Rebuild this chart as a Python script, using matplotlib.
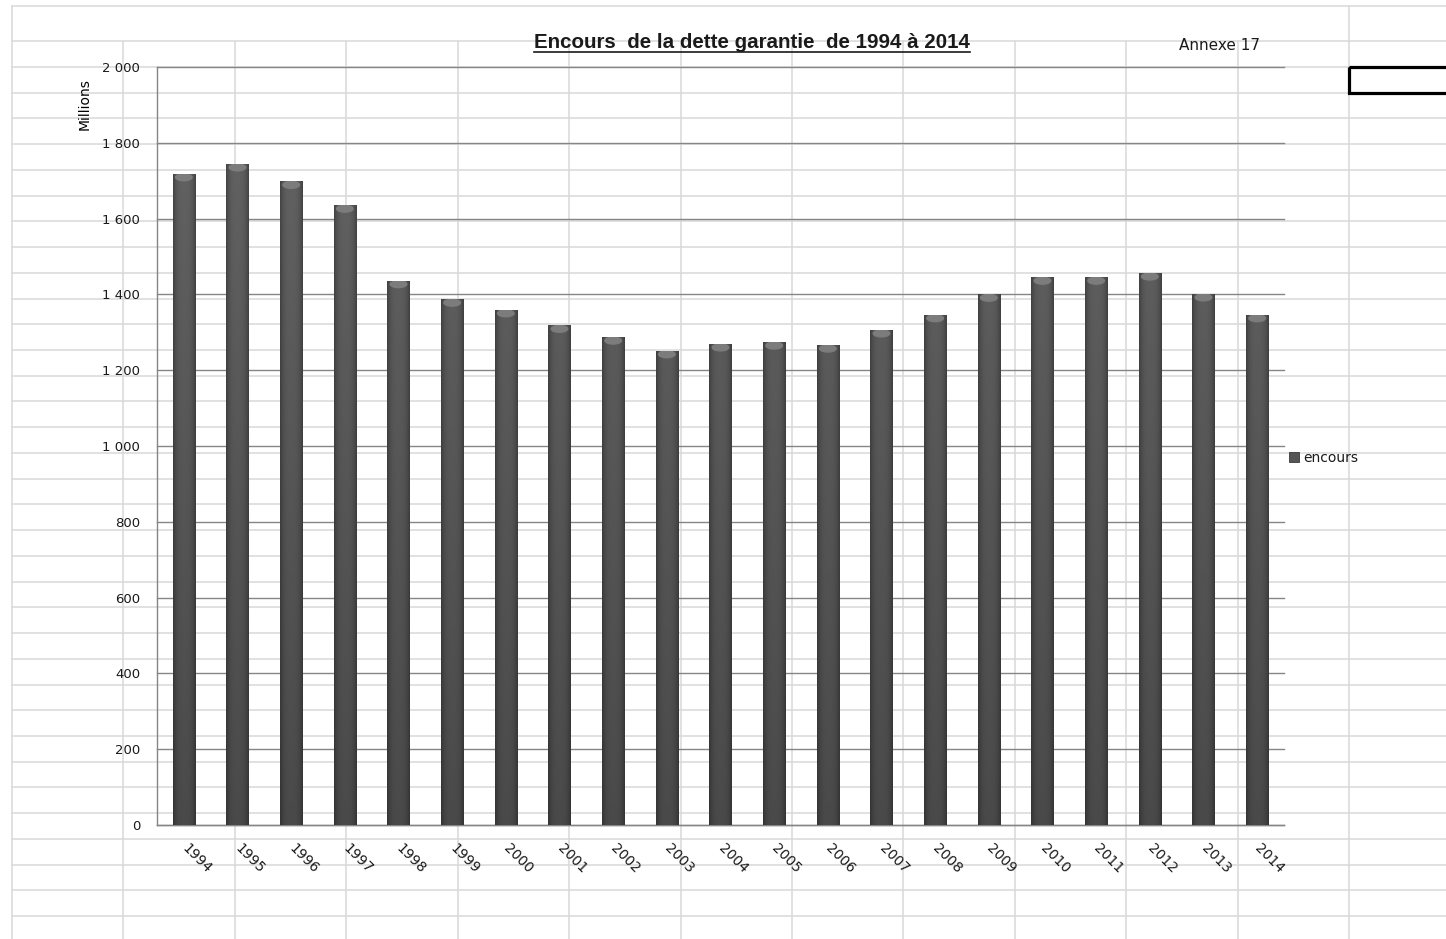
import matplotlib.pyplot as plt
import numpy as np
from matplotlib.lines import Line2D
from matplotlib.patches import Ellipse, Patch, Rectangle
from matplotlib.ticker import FuncFormatter, MultipleLocator

plt.rcParams.update({"font.family": "DejaVu Sans"})

## data
years = [1994, 1995, 1996, 1997, 1998, 1999, 2000, 2001, 2002, 2003, 2004,
         2005, 2006, 2007, 2008, 2009, 2010, 2011, 2012, 2013, 2014]
encours = [1718, 1744, 1698, 1635, 1436, 1387, 1359, 1318, 1287, 1251, 1269,
           1274, 1266, 1306, 1346, 1400, 1445, 1445, 1456, 1401, 1346]

## style
W, H = 1446, 939
col_sheet = "#d9d9d9"
col_grid = "#858585"
col_txt = "#1a1a1a"
bw = 0.41

fig = plt.figure(figsize=(W / 100, H / 100), dpi=100, facecolor="white")

##--------------- spreadsheet background ---------------##
bg = fig.add_axes([0, 0, 1, 1])
bg.set_xlim(0, W)
bg.set_ylim(H, 0)
bg.axis("off")

rows = [6, 41] + list(67 + 25.73 * np.arange(34))
for y in rows:
    bg.plot([12, W], [y, y], color=col_sheet, lw=1.1, zorder=0)
cols = 12 + 111.42 * np.arange(13)
for i, xc in enumerate(cols):
    top = 6 if i in (0, 12) else 41
    bg.plot([xc, xc], [top, H], color=col_sheet, lw=1.1, zorder=0)
# selected cell
bg.add_patch(Rectangle((1349, 67), 120, 25.7, fill=False, ec="black", lw=2.3, clip_on=False))

##--------------- chart ---------------##
ax = fig.add_axes([157 / W, (H - 825) / H, (1284 - 157) / W, (825 - 67) / H])
ax.patch.set_alpha(0)

x = np.arange(len(years))
bars = ax.bar(x, encours, width=bw, color="#505050", lw=0, zorder=3)

# cylinder-like shading
t = np.linspace(-1, 1, 40)
prof = 1 - 0.3 * np.abs(t) ** 3
for rect, v in zip(bars, encours):
    x0, w = rect.get_x(), rect.get_width()
    yy = np.linspace(0, v, 100)[:, None]
    shade = (0.29 + 0.09 * yy / 1750) * prof[None, :]
    img = ax.imshow(shade, cmap="gray", vmin=0, vmax=1, extent=[x0, x0 + w, 0, v],
                    origin="lower", aspect="auto", interpolation="bilinear", zorder=3.5)
    img.set_clip_path(rect)
    cap = Ellipse((x0 + w / 2, v - 9), w * 0.75, 18, color="#7c7c7c", zorder=4)
    ax.add_patch(cap)
    cap.set_clip_path(rect)

ax.set_xlim(-0.5, len(years) - 0.5)
ax.set_ylim(0, 2000)
ax.yaxis.set_major_locator(MultipleLocator(200))
ax.yaxis.set_major_formatter(FuncFormatter(lambda v, p: f"{int(v):,}".replace(",", " ")))
ax.grid(axis="y", color=col_grid, lw=1.0, zorder=1)
ax.grid(axis="x", visible=False)
for gl in ax.get_ygridlines():
    gl.set_clip_on(False)
for s in ["top", "right"]:
    ax.spines[s].set_visible(False)
for s in ["left", "bottom"]:
    ax.spines[s].set_color(col_grid)
    ax.spines[s].set_linewidth(1.0)

ax.set_xticks(x, [str(y) for y in years], rotation=-45, rotation_mode="anchor",
              ha="left", va="center")
ax.tick_params(axis="y", length=0, pad=12, labelsize=9.5, labelcolor=col_txt)
ax.tick_params(axis="x", length=0, pad=15.5, labelsize=10, labelcolor=col_txt)

ax.text(-0.0643, 0.951, "Millions", transform=ax.transAxes, rotation=90,
        ha="center", va="center", fontsize=10, color="black")

# legend
fig.legend(handles=[Patch(facecolor="#555555", edgecolor="#3a3a3a", lw=0.6)], labels=["encours"],
           loc="center left", bbox_to_anchor=(1289 / W, (H - 458) / H), frameon=False,
           borderpad=0, borderaxespad=0, handlelength=0.75, handleheight=0.75,
           handletextpad=0.3, fontsize=10, labelcolor=col_txt)

# title (underlined)
title = fig.text(752 / W, (H - 48) / H, "Encours  de la dette garantie  de 1994 à 2014",
                 ha="center", va="baseline", fontsize=14.8, fontweight="bold",
                 family="Liberation Sans", color=col_txt)
fig.canvas.draw()
bb = title.get_window_extent(renderer=fig.canvas.get_renderer())
fig.add_artist(Line2D([bb.x0 / W, bb.x1 / W], [(H - 51.5) / H] * 2,
                      transform=fig.transFigure, color=col_txt, lw=1.2))

fig.text(1179 / W, (H - 45) / H, "Annexe 17", ha="left", va="center", fontsize=11, color=col_txt)

fig.savefig("out.png", dpi=100)
